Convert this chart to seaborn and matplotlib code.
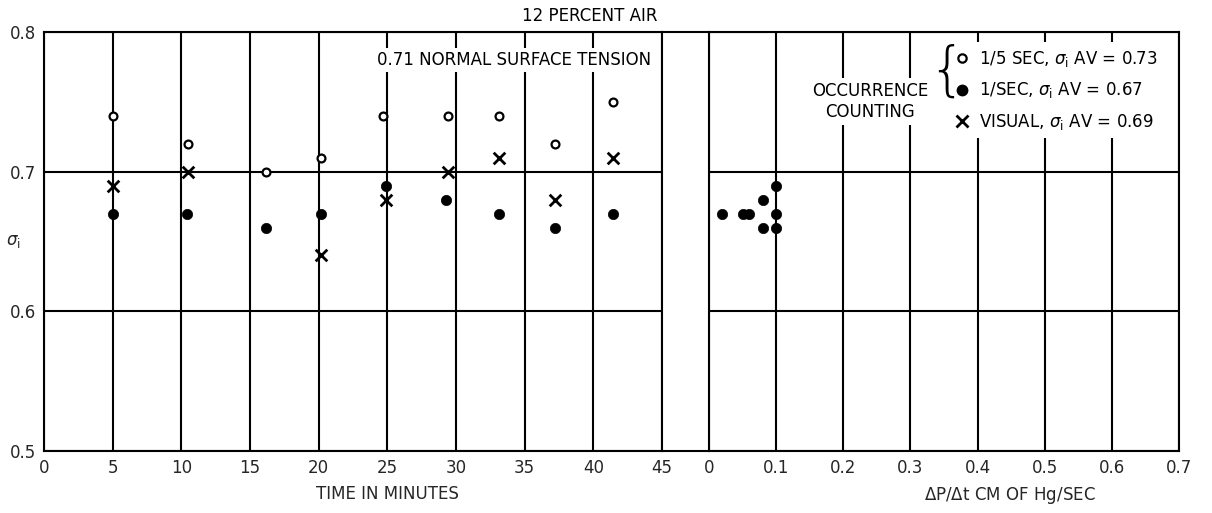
import matplotlib
matplotlib.use("Agg")
import matplotlib.pyplot as plt
from matplotlib.lines import Line2D
import seaborn as sns
import pandas as pd

# ---- data ----
t_open = [5.0, 10.5, 16.2, 20.2, 24.7, 29.4, 33.1, 37.2, 41.4]
s_open = [0.74, 0.72, 0.70, 0.71, 0.74, 0.74, 0.74, 0.72, 0.75]
t_filled = [5.0, 10.4, 16.2, 20.2, 24.9, 29.3, 33.1, 37.2, 41.4]
s_filled = [0.67, 0.67, 0.66, 0.67, 0.69, 0.68, 0.67, 0.66, 0.67]
t_visual = [5.0, 10.5, 20.2, 24.9, 29.4, 33.1, 37.2, 41.4]
s_visual = [0.69, 0.70, 0.64, 0.68, 0.70, 0.71, 0.68, 0.71]
rate = [0.02, 0.05, 0.06, 0.08, 0.08, 0.10, 0.10, 0.10]
s_rate = [0.67, 0.67, 0.67, 0.68, 0.66, 0.69, 0.67, 0.66]

time_ticks = [0, 5, 10, 15, 20, 25, 30, 35, 40, 45]
time_labels = ["0", "5", "10", "15", "20", "25", "30", "35", "40", "45"]
rate_ticks = [0, 0.1, 0.2, 0.3, 0.4, 0.5, 0.6, 0.7]
rate_labels = ["0", "0.1", "0.2", "0.3", "0.4", "0.5", "0.6", "0.7"]
sig_ticks = [0.5, 0.6, 0.7, 0.8]
sig_labels = ["0.5", "0.6", "0.7", "0.8"]
legend_labels = [r"1/5 SEC, $\sigma_{\rm i}$ AV = 0.73",
                 r"1/SEC, $\sigma_{\rm i}$ AV = 0.67",
                 r"VISUAL, $\sigma_{\rm i}$ AV = 0.69"]

sns.set_theme(style="white")
FONT = ["Liberation Sans Narrow", "DejaVu Sans"]
plt.rcParams["font.family"] = FONT
plt.rcParams["mathtext.fontset"] = "dejavusans"
plt.rcParams["axes.edgecolor"] = "black"
plt.rcParams["text.color"] = "black"

W, H = 1212, 513
fig = plt.figure(figsize=(W / 100, H / 100), dpi=100)
LW = 1.5
FS = 12

def px_rect(x0, x1, ytop, ybot):
    return [x0 / W, 1 - ybot / H, (x1 - x0) / W, (ybot - ytop) / H]

ax_l = fig.add_axes(px_rect(44, 662, 32, 451))
ax_g = fig.add_axes(px_rect(662, 709, 32, 451))
ax_r = fig.add_axes(px_rect(709, 1179, 32, 451))

df_open = pd.DataFrame({"t": t_open, "s": s_open})
df_fill = pd.DataFrame({"t": t_filled, "s": s_filled})
df_vis = pd.DataFrame({"t": t_visual, "s": s_visual})
df_rate = pd.DataFrame({"r": rate, "s": s_rate})

sns.scatterplot(data=df_open, x="t", y="s", ax=ax_l, marker="o", s=32,
                color="white", edgecolor="black", linewidth=1.6, zorder=5)
sns.scatterplot(data=df_fill, x="t", y="s", ax=ax_l, marker="o", s=55,
                color="black", edgecolor="black", linewidth=0.5, zorder=5)
sns.scatterplot(data=df_vis, x="t", y="s", ax=ax_l, marker="x", s=70,
                color="black", linewidth=2.0, zorder=5)
sns.scatterplot(data=df_rate, x="r", y="s", ax=ax_r, marker="o", s=55,
                color="black", edgecolor="black", linewidth=0.5, zorder=5)

for ax, xt, xl, xlim in [(ax_l, time_ticks, time_labels, (0, 45)),
                         (ax_r, rate_ticks, rate_labels, (0, 0.7))]:
    ax.set_xlim(*xlim)
    ax.set_ylim(0.5, 0.8)
    ax.set_xticks(xt)
    ax.set_xticklabels(xl)
    ax.set_yticks(sig_ticks)
    ax.grid(True, color="black", linewidth=LW)
    ax.set_axisbelow(True)
    ax.tick_params(length=0, pad=6, labelsize=FS)
    for sp in ax.spines.values():
        sp.set_visible(True)
        sp.set_linewidth(LW)
        sp.set_color("black")
    ax.set_xlabel("")
    ax.set_ylabel("")

ax_l.set_yticklabels(sig_labels)
ax_r.set_yticklabels([])

ax_g.set_xticks([])
ax_g.set_yticks([])
ax_g.set_facecolor("none")
for name, sp in ax_g.spines.items():
    sp.set_visible(name in ("top", "bottom"))
    sp.set_linewidth(LW)
    sp.set_color("black")

ax_l.set_ylabel(r"$\sigma_{\rm i}$", rotation=0, fontsize=FS)
ax_l.yaxis.set_label_coords(-0.05, 0.48)

ax_l.set_xlabel("TIME IN MINUTES", fontsize=FS)
ax_l.xaxis.set_label_coords(0.555, -0.08)
ax_r.set_xlabel(r"$\Delta$P/$\Delta$t CM OF Hg/SEC", fontsize=FS)
ax_r.xaxis.set_label_coords(0.64, -0.08)

fig.text(590 / W, 1 - 16 / H, "12 PERCENT AIR", ha="center", va="center",
         fontsize=FS)

ax_l.text(34.2, 0.78, "0.71 NORMAL SURFACE TENSION", ha="center",
          va="center", fontsize=FS, zorder=6,
          bbox=dict(facecolor="white", edgecolor="none", pad=2))

ax_r.text(0.24, 0.75, "OCCURRENCE\nCOUNTING", ha="center", va="center",
          fontsize=FS, linespacing=1.2, zorder=6,
          bbox=dict(facecolor="white", edgecolor="none", pad=3))

handles = [
    Line2D([], [], linestyle="none", marker="o", markersize=6,
           markerfacecolor="white", markeredgecolor="black",
           markeredgewidth=1.6),
    Line2D([], [], linestyle="none", marker="o", markersize=7.5,
           markerfacecolor="black", markeredgecolor="black"),
    Line2D([], [], linestyle="none", marker="x", markersize=8,
           markeredgecolor="black", markeredgewidth=2.0),
]
leg = ax_r.legend(handles, legend_labels, loc="upper left",
                  bbox_to_anchor=(0.51, 0.975), frameon=True,
                  fontsize=FS, handlelength=0.8, handletextpad=0.6,
                  labelspacing=0.68, borderpad=0.4, borderaxespad=0)
leg.get_frame().set_facecolor("white")
leg.get_frame().set_edgecolor("none")
leg.get_frame().set_alpha(1)
leg.set_zorder(10)

ax_r.text(0.354, 0.771, "{", ha="center", va="center", fontsize=42,
          family=["DejaVu Sans"], fontweight="light", zorder=11)

fig.savefig("out.png", dpi=100, facecolor="white")
